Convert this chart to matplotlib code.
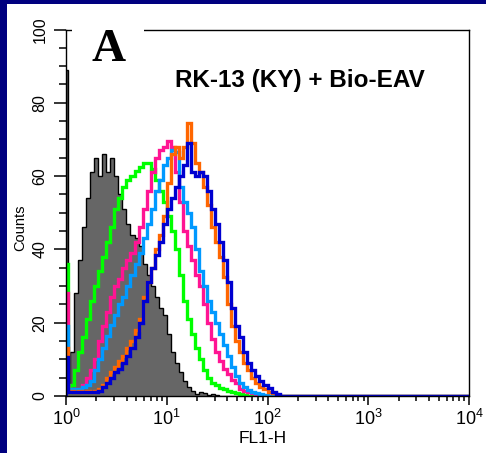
import numpy as np
import matplotlib
matplotlib.use('Agg')
import matplotlib.pyplot as plt
from matplotlib.patches import Rectangle
from matplotlib.ticker import MultipleLocator, LogLocator, NullFormatter

plt.rcParams['font.family'] = ['Liberation Sans', 'DejaVu Sans']

# channel edges in decades: a narrow pile-up channel at 10^0, then 0.04-decade channels,
# last channel runs out to 10^4
bin_width = 0.04
n_bins = 55
edges_dec = [0.0, 0.015] + [bin_width * k for k in range(1, n_bins + 2)] + [4.0]

# counts per channel: [pile-up, floor, 55 channels..., tail]
gray_counts = [89, 1,
               12, 28, 37, 46, 54, 61, 65, 60, 66, 61,
               65, 60, 55, 51, 47, 44, 43, 41, 36, 33,
               30, 27, 24, 22, 17, 12, 9, 6.5, 4, 2.5,
               1.5, 0.5, 1.2, 0.8, 0.3, 0.5, 0.2, 0, 0, 0,
               0, 0, 0, 0, 0, 0, 0, 0, 0, 0,
               0, 0, 0, 0, 0,
               0]
green_counts = [36, 1,
                3, 7, 12, 16, 21, 26, 30, 34, 38, 42,
                46, 51, 54, 57, 59, 60, 61.5, 62.5, 63.5, 63.5,
                62, 59, 56, 53, 49, 45, 40, 33, 26, 21,
                17, 13, 10, 7, 5, 3.5, 3, 2.2, 1.8, 1.5,
                1, 0.8, 0.5, 0.3, 0, 0, 0, 0, 0, 0,
                0, 0, 0, 0, 0,
                0]
pink_counts = [28, 1.5,
               2, 2, 2, 3, 5, 7, 10, 15, 19, 23,
               27, 30, 32, 35, 37, 39, 42, 46, 51, 56,
               61, 65, 67, 68, 69.5, 68, 61, 53, 45, 41,
               37, 33, 30, 25, 20, 15.5, 12, 9.5, 7.5, 6,
               4.5, 3.5, 2, 1.5, 1, 0.8, 0.4, 0, 0, 0,
               0, 0, 0, 0, 0,
               0]
lightblue_counts = [19, 1.5,
                    2, 2, 2, 2.5, 3, 4, 7, 10, 13, 16.5,
                    19.5, 22, 25, 27, 30, 33, 36, 39, 43, 47,
                    51, 56, 59, 63, 65, 67, 66.5, 57, 53, 50,
                    46, 40, 34, 30, 26, 23, 20, 17, 14, 11,
                    8, 5.5, 3.5, 2.5, 1.6, 1.2, 0.9, 0.6, 0.3, 0,
                    0, 0, 0, 0, 0,
                    0]
orange_counts = [13, 1,
                 1.5, 1, 1.5, 1, 1.5, 1, 1.5, 2, 3, 5,
                 6.5, 8, 9.5, 11, 13, 15, 18, 21, 27, 31,
                 35, 40, 44, 49, 58, 66, 68, 65, 68, 74.5,
                 69, 63.5, 61, 57, 52, 46, 42, 38, 32.5, 25,
                 19, 15, 12, 9, 7, 5, 3.5, 2.5, 1.8, 1.2,
                 0.8, 0.3, 0, 0, 0,
                 0]
blue_counts = [10.6, 1,
               1, 1, 1, 1, 1, 1, 1.2, 1.5, 2.5, 3.5,
               5, 6.5, 7.5, 9, 11, 13, 16, 20, 26, 31,
               35, 38.5, 42, 47, 51, 54, 57, 60, 63, 69,
               61, 60, 61, 60, 56, 51, 47, 42, 37, 31,
               24, 19, 16, 12, 9, 7, 5.5, 4, 3, 2.3,
               1.2, 0.5, 0, 0, 0,
               0]

x_ticks = [1, 10, 100, 1000, 10000]
y_ticks = [0, 20, 40, 60, 80, 100]

edges = 10 ** np.array(edges_dec)

fig = plt.figure(figsize=(4.86, 4.53), dpi=100, facecolor='#00007f')
fig.add_artist(Rectangle((7 / 486, 0), 1, 449 / 453, transform=fig.transFigure,
                         facecolor='white', edgecolor='none', zorder=0))
ax = fig.add_axes([66 / 486, 57 / 453, 403 / 486, 366.5 / 453])

ax.stairs(gray_counts, edges, fill=True, color='#666666', zorder=1)
ax.stairs(gray_counts, edges, color='black', lw=1, zorder=1.1)
for counts, col in [(green_counts, '#00ff00'), (pink_counts, '#ff1493'),
                    (lightblue_counts, '#0099ff'), (orange_counts, '#ff6600'),
                    (blue_counts, '#0000d0')]:
    ax.stairs(counts, edges, color=col, lw=2.4, zorder=2)

ax.set_xscale('log')
ax.set_xlim(1, 10000)
ax.set_ylim(0, 100)
ax.set_xticks(x_ticks)
ax.xaxis.set_minor_locator(LogLocator(base=10, subs=np.arange(2, 10)))
ax.xaxis.set_minor_formatter(NullFormatter())
ax.set_yticks(y_ticks)
ax.yaxis.set_minor_locator(MultipleLocator(5))

ax.tick_params(axis='x', which='major', length=6.5, width=1.1, labelsize=13, pad=3)
ax.tick_params(axis='x', which='minor', length=3.5, width=1.1)
ax.tick_params(axis='y', which='major', length=8.5, width=1.1, labelsize=11.5, pad=5)
ax.tick_params(axis='y', which='minor', length=5, width=1.1)
for lbl in ax.get_yticklabels():
    lbl.set_rotation(90)
    lbl.set_va('center')

for sp in ax.spines.values():
    sp.set_linewidth(1.0)

ax.set_xlabel('FL1-H', fontsize=12.5)
ax.xaxis.set_label_coords(0.489, -0.096)
ax.set_ylabel('Counts', fontsize=10.5)
ax.yaxis.set_label_coords(-0.095, 0.458)

ax.text(0.5806, 0.843, 'RK-13 (KY) + Bio-EAV', transform=ax.transAxes,
        ha='center', va='baseline', fontsize=17.5, fontweight='bold')

# white patch behind the panel letter hides part of the top frame
ax.add_patch(Rectangle((6 / 403, 0.98), 72 / 403, 0.04, transform=ax.transAxes,
                       facecolor='white', edgecolor='none', clip_on=False, zorder=3))
ax.text(0.0645, 0.914, 'A', transform=ax.transAxes, ha='left', va='baseline',
        fontsize=34, fontweight='bold', family='Liberation Serif', zorder=4)

fig.savefig('out.png', dpi=100, facecolor=fig.get_facecolor())
